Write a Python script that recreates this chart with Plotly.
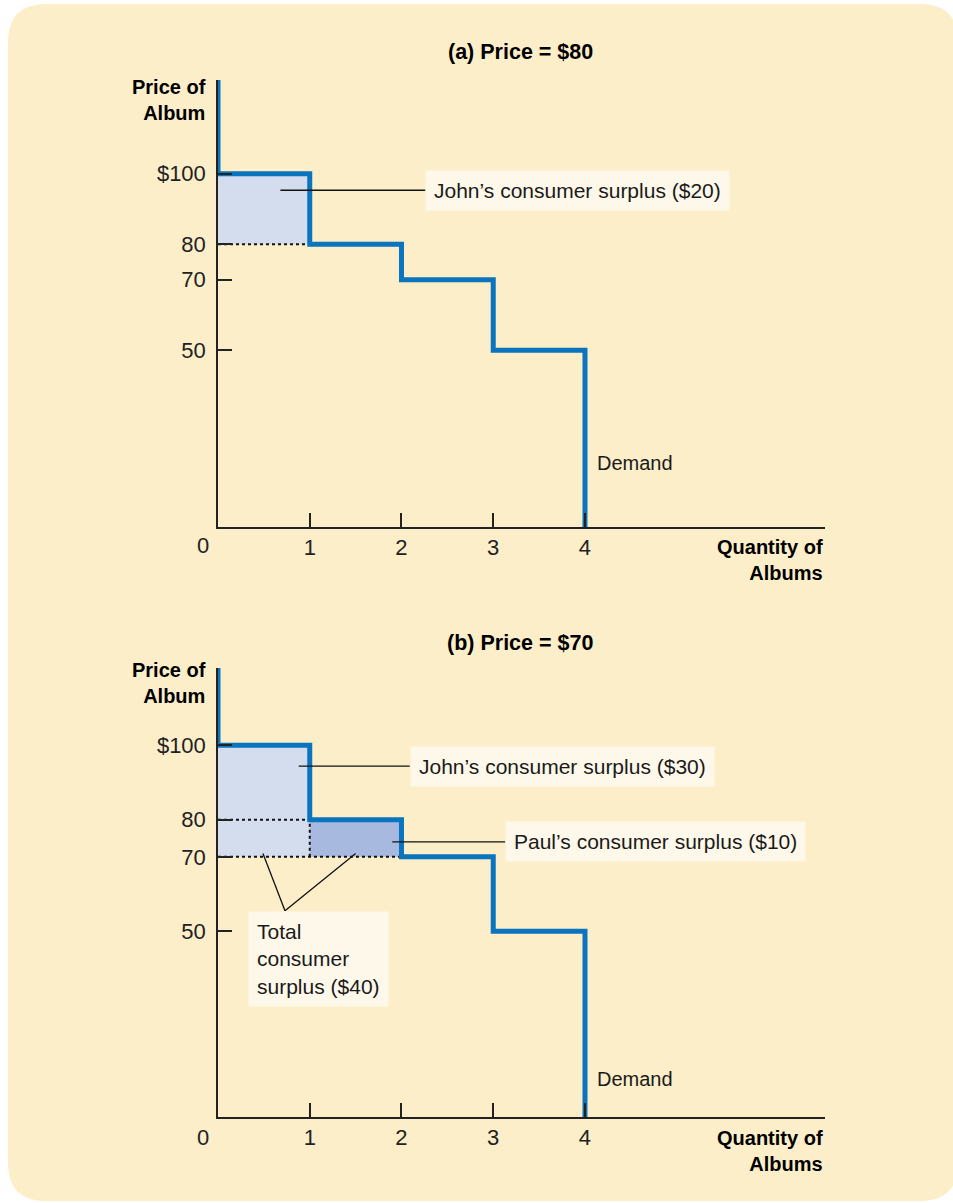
import plotly.graph_objects as go

# ---------------- data ----------------
buyers = ["John", "Paul", "George", "Ringo"]
quantity = [1, 2, 3, 4]
willingness = [100, 80, 70, 50]
price_a = 80
price_b = 70
y_tickvals = [50, 70, 80, 100]
y_ticktext = ["50", "70", "80", "$100"]
x_tickvals = [1, 2, 3, 4]
x_ticktext = ["1", "2", "3", "4"]
surplus_colors = {"John": "#D3DDEE", "Paul": "#A7B9DF", "George": "#A7B9DF", "Ringo": "#A7B9DF"}

# ---------------- layout helpers ----------------
W, H = 953, 1203
FONT = "Liberation Sans, Arial, sans-serif"
BLUE = "#0A74BE"
BG = "#FBEEC9"
LABEL_BG = "#FDF8E9"
X_MAX = 6.616
Y_MAX = {"a": 126.5, "b": 120.8}


def px(x):
    return x / W


def py(y):
    return 1 - y / H


fig = go.Figure()

panels = [
    ("a", price_a, "x", "y"),
    ("b", price_b, "x2", "y2"),
]

for key, price, xa, ya in panels:
    ymax = Y_MAX[key]
    # surplus areas
    for i, (b, w) in enumerate(zip(buyers, willingness)):
        if w > price:
            fig.add_trace(go.Scatter(
                x=[i, i + 1, i + 1, i, i], y=[price, price, w, w, price],
                fill="toself", fillcolor=surplus_colors[b], mode="lines",
                line=dict(width=0), hoverinfo="skip", xaxis=xa, yaxis=ya))
    # dotted reference lines
    n_buy = sum(1 for w in willingness if w > price)
    fig.add_trace(go.Scatter(x=[0, n_buy], y=[price, price], mode="lines",
                             line=dict(color="#111", width=2, dash="dot"),
                             hoverinfo="skip", xaxis=xa, yaxis=ya))
    for j in range(1, n_buy):
        w = willingness[j]
        fig.add_trace(go.Scatter(x=[0, j, None, j, j], y=[w, w, None, price, w], mode="lines",
                                 line=dict(color="#111", width=2, dash="dot"),
                                 hoverinfo="skip", xaxis=xa, yaxis=ya))
    # demand step curve
    dx = [0] + [q - 1 for q in quantity] + [quantity[-1]]
    dy = [ymax] + willingness + [0]
    fig.add_trace(go.Scatter(x=dx, y=dy, mode="lines", line_shape="hv",
                             line=dict(color=BLUE, width=5),
                             hoverinfo="skip", xaxis=xa, yaxis=ya))

axis_common = dict(showgrid=False, zeroline=False, showline=True, linecolor="#222",
                   linewidth=1.5, ticks="inside", ticklen=14, tickwidth=1.5, tickcolor="#222",
                   tickfont=dict(family=FONT, size=22, color="#222"), fixedrange=True)

fig.update_layout(
    xaxis=dict(domain=[px(218), px(825)], range=[0, X_MAX], anchor="y",
               tickvals=x_tickvals, ticktext=x_ticktext, **axis_common),
    yaxis=dict(domain=[py(527), py(80)], range=[0, Y_MAX["a"]], anchor="x",
               tickvals=y_tickvals, ticktext=y_ticktext, ticklabelstandoff=6, **axis_common),
    xaxis2=dict(domain=[px(218), px(825)], range=[0, X_MAX], anchor="y2",
                tickvals=x_tickvals, ticktext=x_ticktext, **axis_common),
    yaxis2=dict(domain=[py(1117), py(668)], range=[0, Y_MAX["b"]], anchor="x2",
                tickvals=y_tickvals, ticktext=y_ticktext, ticklabelstandoff=6, **axis_common),
)

# background rounded panel
x0, x1, y0, y1, r = 8, 958, 4, 1201, 38
path = (f"M {px(x0 + r)} {py(y0)} L {px(x1 - r)} {py(y0)} "
        f"Q {px(x1)} {py(y0)} {px(x1)} {py(y0 + r)} L {px(x1)} {py(y1 - r)} "
        f"Q {px(x1)} {py(y1)} {px(x1 - r)} {py(y1)} L {px(x0 + r)} {py(y1)} "
        f"Q {px(x0)} {py(y1)} {px(x0)} {py(y1 - r)} L {px(x0)} {py(y0 + r)} "
        f"Q {px(x0)} {py(y0)} {px(x0 + r)} {py(y0)} Z")
shapes = [dict(type="path", path=path, xref="paper", yref="paper",
               fillcolor=BG, line=dict(width=0), layer="below")]

# leader lines (data coordinates)
leaders = [
    ("x", "y", 0.68, 95.3, 2.26, 95.3),
    ("x2", "y2", 0.88, 94.4, 2.09, 94.4),
    ("x2", "y2", 1.90, 74.0, 3.13, 74.0),
    ("x2", "y2", 0.49, 70.9, 0.73, 55.5),
    ("x2", "y2", 0.73, 55.5, 1.50, 70.9),
]
for xr, yr, a0, b0, a1, b1 in leaders:
    shapes.append(dict(type="line", xref=xr, yref=yr, x0=a0, y0=b0, x1=a1, y1=b1,
                       line=dict(color="#111", width=1.3), layer="above"))

fig.update_layout(shapes=shapes)

tfont = dict(family=FONT, size=21, color="#1a1a1a")
dfont = dict(family=FONT, size=20, color="#1a1a1a")
bfont = dict(family=FONT, size=20, color="#000")
titlefont = dict(family=FONT, size=21.5, color="#000")
ann = []
# in-plot labels
ann.append(dict(text="John\u2019s consumer surplus ($20)", x=2.26, y=95.3, xref="x", yref="y",
                xanchor="left", yanchor="middle", showarrow=False, font=tfont,
                bgcolor=LABEL_BG, borderpad=8))
ann.append(dict(text="John\u2019s consumer surplus ($30)", x=2.09, y=94.4, xref="x2", yref="y2",
                xanchor="left", yanchor="middle", showarrow=False, font=tfont,
                bgcolor=LABEL_BG, borderpad=8))
ann.append(dict(text="Paul\u2019s consumer surplus ($10)", x=3.13, y=74.0, xref="x2", yref="y2",
                xanchor="left", yanchor="middle", showarrow=False, font=tfont,
                bgcolor=LABEL_BG, borderpad=8))
ann.append(dict(text="Total<br>consumer<br>surplus ($40)", x=0.327, y=55.5, xref="x2", yref="y2",
                xanchor="left", yanchor="top", align="left", showarrow=False, font=tfont,
                bgcolor=LABEL_BG, borderpad=8))
ann.append(dict(text="Demand", x=4.11, y=18.2, xref="x", yref="y", xanchor="left",
                yanchor="middle", showarrow=False, font=dfont))
ann.append(dict(text="Demand", x=4.11, y=10.2, xref="x2", yref="y2", xanchor="left",
                yanchor="middle", showarrow=False, font=dfont))

# titles and axis labels (paper coordinates)
for title, ty, top_y, q_top, zero_y in [("(a) Price = $80", 52, 74, 534, 546),
                                         ("(b) Price = $70", 643, 657, 1125, 1137)]:
    ann.append(dict(text="<b>" + title + "</b>", x=px(520), y=py(ty), xref="paper", yref="paper",
                    xanchor="center", yanchor="middle", showarrow=False, font=titlefont))
    ann.append(dict(text="<b>Price of<br>Album</b>", x=px(208), y=py(top_y), xref="paper",
                    yref="paper", xanchor="right", yanchor="top", align="right",
                    showarrow=False, font=bfont))
    ann.append(dict(text="<b>Quantity of<br>Albums</b>", x=px(825), y=py(q_top), xref="paper",
                    yref="paper", xanchor="right", yanchor="top", align="right",
                    showarrow=False, font=bfont))
    ann.append(dict(text="0", x=px(203), y=py(zero_y), xref="paper", yref="paper",
                    xanchor="center", yanchor="middle", showarrow=False,
                    font=dict(family=FONT, size=22, color="#222")))

fig.update_layout(
    annotations=ann,
    width=W, height=H, autosize=False,
    margin=dict(l=0, r=0, t=0, b=0),
    paper_bgcolor="white", plot_bgcolor="white",
    showlegend=False,
    font=dict(family=FONT),
)

fig.write_html("out.html", config={"displayModeBar": False},
               post_script="document.body.style.margin='0';document.body.style.padding='0';")
